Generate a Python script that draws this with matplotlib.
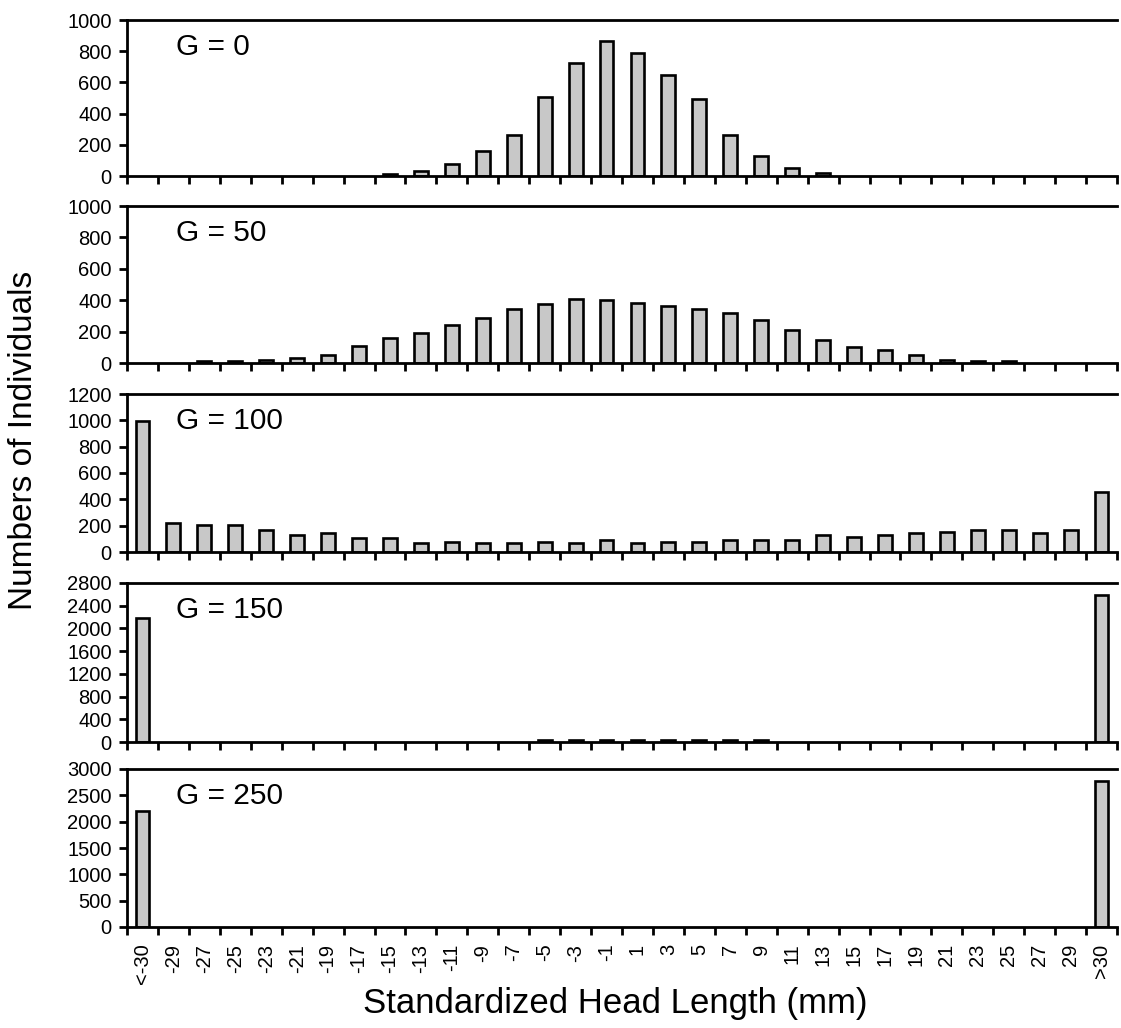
import matplotlib.pyplot as plt
import numpy as np

plt.rcParams['font.family'] = ['Liberation Sans', 'DejaVu Sans']

categories = ["<-30"] + [str(v) for v in range(-29, 30, 2)] + [">30"]

g0 = [0, 0, 0, 0, 0, 0, 0, 0, 10, 32, 75, 161, 260, 509, 727, 865,
      790, 648, 496, 260, 129, 54, 21, 0, 0, 0, 0, 0, 0, 0, 0, 0]
g50 = [0, 0, 10, 10, 21, 32, 51, 106, 159, 191, 244, 286, 343, 375, 405, 400,
       381, 360, 347, 318, 275, 210, 146, 104, 83, 49, 21, 10, 10, 0, 0, 0]
g100 = [995, 218, 208, 208, 167, 132, 144, 104, 104, 66, 78, 66, 66, 78, 66, 91,
        66, 78, 78, 91, 91, 91, 129, 116, 129, 142, 154, 167, 167, 142, 167, 458]
g150 = [2180, 0, 0, 0, 0, 0, 0, 0, 0, 0, 0, 0, 0, 35, 40, 40,
        40, 40, 35, 35, 35, 0, 0, 0, 0, 0, 0, 0, 0, 0, 0, 2580]
g250 = [2210, 0, 0, 0, 0, 0, 0, 0, 0, 0, 0, 0, 0, 0, 0, 0,
        0, 0, 0, 0, 0, 0, 0, 0, 0, 0, 0, 0, 0, 0, 0, 2780]

panels = [("G = 0", g0, 1000, 200),
          ("G = 50", g50, 1000, 200),
          ("G = 100", g100, 1200, 200),
          ("G = 150", g150, 2800, 400),
          ("G = 250", g250, 3000, 500)]

# pixel boxes (top, bottom) of each panel
boxes = [(20, 176), (206, 363), (394, 552), (583, 742), (769, 927)]
W, H = 1121, 1028

fig = plt.figure(figsize=(W / 100, H / 100), dpi=100)
x = np.arange(len(categories))

for i, (title, vals, ymax, step) in enumerate(panels):
    top, bot = boxes[i]
    ax = fig.add_axes([127 / W, 1 - bot / H, 990 / W, (bot - top) / H])
    vals = np.array(vals)
    nz = vals > 0
    ax.bar(x[nz], vals[nz], width=0.45, color='#c8c8c8', edgecolor='black', linewidth=1.9)
    ax.set_xlim(-0.5, len(categories) - 0.5)
    ax.set_ylim(0, ymax)
    ax.set_yticks(np.arange(0, ymax + 1, step))
    ax.spines['right'].set_visible(False)
    for s in ['left', 'top', 'bottom']:
        ax.spines[s].set_linewidth(2)
    ax.tick_params(axis='y', direction='out', length=6, width=2, labelsize=14.5, pad=5)
    ax.set_xticks(x)
    ax.set_xticks(np.arange(-0.5, len(categories), 1), minor=True)
    ax.tick_params(axis='x', which='major', length=0)
    ax.tick_params(axis='x', which='minor', direction='out', length=6, width=2)
    if i == len(panels) - 1:
        ax.set_xticklabels(categories, rotation=90, fontsize=14.5)
        ax.tick_params(axis='x', which='major', pad=12)
    else:
        ax.set_xticklabels([])
    ax.text(0.05, 0.83, title, transform=ax.transAxes, fontsize=21.5,
            ha='left', va='center')

fig.text(24 / W, 1 - 440 / H, "Numbers of Individuals", rotation=90, fontsize=24,
         ha='center', va='center')
fig.text(615 / W, 1 - 1004 / H, "Standardized Head Length (mm)", fontsize=25,
         ha='center', va='center')

plt.savefig("out.png", dpi=100)
